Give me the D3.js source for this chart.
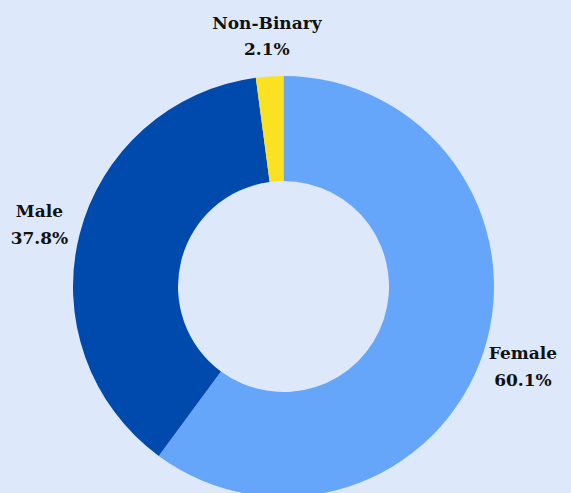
<!DOCTYPE html>
<html><head><meta charset="utf-8">
<script src="https://cdn.jsdelivr.net/npm/d3@7"></script>
<style>html,body{margin:0;padding:0;background:#dde9fb;overflow:hidden}</style>
</head><body>
<svg id="c" width="571" height="493"></svg>
<script>
const categories = ["Female", "Male", "Non-Binary"];
const values = [60.1, 37.8, 2.1];
const colors = ["#66a6fa", "#0049ad", "#fae222"];

const svg = d3.select("#c");
svg.append("rect").attr("width", 571).attr("height", 493).attr("fill", "#dde9fb");
const cx = 283.5, cy = 286.5, R = 210.5, r = 105.5;
const g = svg.append("g").attr("transform", `translate(${cx},${cy})`);
const data = categories.map((c, i) => ({cat: c, value: values[i], color: colors[i]}));
const pie = d3.pie().value(d => d.value).sort(null);
const arc = d3.arc().innerRadius(r).outerRadius(R);
const arcs = pie(data);
g.selectAll("path").data(arcs).join("path").attr("d", arc).attr("fill", d => d.data.color);

const labelR = 252;
const lab = g.selectAll("text.lbl").data(arcs).join("text")
  .attr("class", "lbl")
  .attr("text-anchor", "middle")
  .attr("font-family", "'DejaVu Serif', serif")
  .attr("font-weight", "bold")
  .attr("font-size", 17)
  .attr("fill", "#111")
  .attr("transform", d => {
    const a = (d.startAngle + d.endAngle) / 2;
    return `translate(${Math.sin(a) * labelR},${-Math.cos(a) * labelR - 4})`;
  });
lab.append("tspan").attr("x", 0).attr("dy", "-0.15em").text(d => d.data.cat);
lab.append("tspan").attr("x", 0).attr("dy", 27).text(d => d.data.value.toFixed(1) + "%");
</script>
</body></html>
